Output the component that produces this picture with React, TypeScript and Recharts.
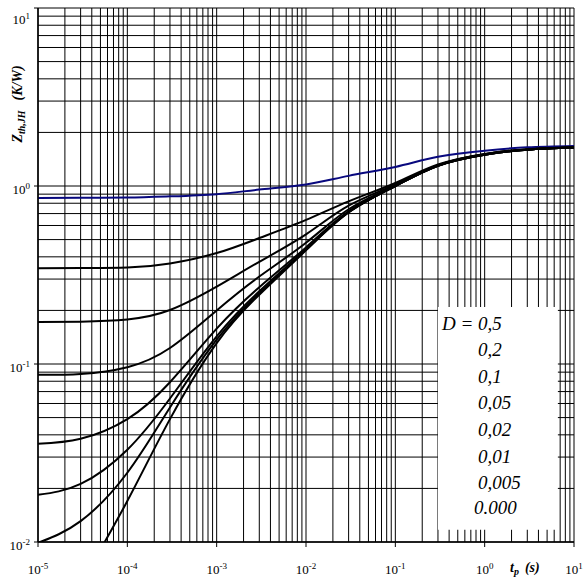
import React from 'react';
import { LineChart, Line, XAxis, YAxis, CartesianGrid, ReferenceArea } from 'recharts';

// pulse duration t_p (s) vs Z_th,JH (K/W)
const D_050: [number, number][] = [
  [1e-5, 0.856], [3e-5, 0.858], [1e-4, 0.862], [3e-4, 0.875], [1e-3, 0.9], [3e-3, 0.955],
  [1e-2, 1.02], [3e-2, 1.14], [1e-1, 1.28], [3e-1, 1.46], [1, 1.58], [3, 1.65], [10, 1.68],
];
const D_020: [number, number][] = [
  [1e-5, 0.345], [3e-5, 0.346], [1e-4, 0.348], [3e-4, 0.367], [1e-3, 0.42], [3e-3, 0.51],
  [1e-2, 0.645], [3e-2, 0.82], [1e-1, 1.04], [3e-1, 1.32], [1, 1.515], [3, 1.61], [10, 1.65],
];
const D_010: [number, number][] = [
  [1e-5, 0.172], [3e-5, 0.173], [1e-4, 0.178], [3e-4, 0.201], [1e-3, 0.272], [3e-3, 0.375],
  [1e-2, 0.535], [3e-2, 0.775], [1e-1, 1.02], [3e-1, 1.31], [1, 1.51], [3, 1.605], [10, 1.645],
];
const D_005: [number, number][] = [
  [1e-5, 0.087], [3e-5, 0.088], [1e-4, 0.096], [3e-4, 0.123], [1e-3, 0.2], [3e-3, 0.31],
  [1e-2, 0.48], [3e-2, 0.74], [1e-1, 1.01], [3e-1, 1.31], [1, 1.51], [3, 1.605], [10, 1.645],
];
const D_002: [number, number][] = [
  [1e-5, 0.0356], [3e-5, 0.038], [1e-4, 0.049], [3e-4, 0.079], [1e-3, 0.158], [3e-3, 0.27],
  [1e-2, 0.452], [3e-2, 0.72], [1e-1, 1.0], [3e-1, 1.3], [1, 1.5], [3, 1.6], [10, 1.645],
];
const D_001: [number, number][] = [
  [1e-5, 0.0184], [3e-5, 0.0212], [1e-4, 0.033], [3e-4, 0.064], [1e-3, 0.143], [3e-3, 0.256],
  [1e-2, 0.443], [3e-2, 0.715], [1e-1, 1.0], [3e-1, 1.3], [1, 1.5], [3, 1.6], [10, 1.645],
];
const D_0005: [number, number][] = [
  [1e-5, 0.0099], [3e-5, 0.0131], [1e-4, 0.0245], [3e-4, 0.057], [1e-3, 0.137], [3e-3, 0.25],
  [1e-2, 0.438], [3e-2, 0.712], [1e-1, 1.0], [3e-1, 1.3], [1, 1.5], [3, 1.6], [10, 1.645],
];
const D_SINGLE: [number, number][] = [
  [3e-5, 0.0058], [1e-4, 0.017], [3e-4, 0.049], [1e-3, 0.131], [3e-3, 0.245], [1e-2, 0.435],
  [3e-2, 0.71], [1e-1, 1.0], [3e-1, 1.3], [1, 1.5], [3, 1.6], [10, 1.645],
];

const SERIES = [
  { name: '0,5', pts: D_050, color: '#08087e' },
  { name: '0,2', pts: D_020, color: '#000' },
  { name: '0,1', pts: D_010, color: '#000' },
  { name: '0,05', pts: D_005, color: '#000' },
  { name: '0,02', pts: D_002, color: '#000' },
  { name: '0,01', pts: D_001, color: '#000' },
  { name: '0,005', pts: D_0005, color: '#000' },
  { name: '0.000', pts: D_SINGLE, color: '#000' },
];

const LEGEND_LABELS = ['D = 0,5', '0,2', '0,1', '0,05', '0,02', '0,01', '0,005', '0.000'];

const X_DECADES = [1e-5, 1e-4, 1e-3, 1e-2, 1e-1, 1];
const Y_DECADES = [1e-2, 1e-1, 1];
const MULTS = [1, 2, 3, 4, 5, 6, 7, 8, 9];
const X_TICKS = [...X_DECADES.flatMap((d) => MULTS.map((m) => m * d)), 10];
const Y_TICKS = [...Y_DECADES.flatMap((d) => MULTS.map((m) => m * d)), 10];

const FONT = '"Liberation Serif", "Times New Roman", serif';
const PLOT_LEFT = 38;
const PLOT_BOTTOM = 542;

const decadeExp = (v: number) => {
  const l = Math.log10(v);
  return Math.abs(l - Math.round(l)) < 1e-6 ? Math.round(l) : null;
};

const XTick = ({ x, payload }: any) => {
  const e = decadeExp(payload.value);
  if (e === null) return <g />;
  return (
    <g>
      <line x1={x} x2={x} y1={PLOT_BOTTOM} y2={PLOT_BOTTOM + 5} stroke="#000" />
      <text x={x} y={574} textAnchor="middle" fontFamily={FONT} fontSize={13} fill="#000">
        10<tspan dy={-5} fontSize={9}>{e}</tspan>
      </text>
    </g>
  );
};

const YTick = ({ y, payload }: any) => {
  const e = decadeExp(payload.value);
  if (e === null) return <g />;
  return (
    <g>
      <line x1={PLOT_LEFT - 4} x2={PLOT_LEFT} y1={y} y2={y} stroke="#000" />
      <text x={30} y={e === 1 ? 24 : y + 8} textAnchor="end" fontFamily={FONT} fontSize={13} fill="#000">
        10<tspan dy={-5} fontSize={9}>{e}</tspan>
      </text>
    </g>
  );
};

export default function App() {
  return (
    <div style={{ position: 'absolute', left: 0, top: 0, width: 584, height: 578, background: '#fff' }}>
      <LineChart width={584} height={578} margin={{ top: 8, right: 10, left: 0, bottom: 0 }}>
        <CartesianGrid stroke="#000" strokeWidth={1} />
        <XAxis
          dataKey="t"
          type="number"
          scale="log"
          domain={[1e-5, 10]}
          ticks={X_TICKS}
          interval={0}
          allowDataOverflow
          tick={<XTick />}
          tickLine={false}
          axisLine={{ stroke: '#000', strokeWidth: 1.5 }}
          height={36}
        />
        <YAxis
          type="number"
          scale="log"
          domain={[0.01, 10]}
          ticks={Y_TICKS}
          interval={0}
          allowDataOverflow
          tick={<YTick />}
          tickLine={false}
          axisLine={{ stroke: '#000', strokeWidth: 1.5 }}
          width={38}
        />
        <ReferenceArea x1={0.3} x2={6.6} y1={0.0117} y2={0.209} fill="#fff" fillOpacity={1} stroke="none" />
        {SERIES.map((s) => (
          <Line
            key={s.name}
            data={s.pts.map(([t, z]) => ({ t, z }))}
            dataKey="z"
            type="natural"
            stroke={s.color}
            strokeWidth={2}
            dot={false}
            isAnimationActive={false}
          />
        ))}
      </LineChart>
      <svg width={584} height={578} style={{ position: 'absolute', left: 0, top: 0, pointerEvents: 'none' }}>
        <text
          x={22}
          y={104}
          transform="rotate(-90, 22, 104)"
          textAnchor="middle"
          fontFamily={FONT}
          fontSize={14}
          fontStyle="italic"
          fontWeight="bold"
        >
          Z<tspan dy={3} fontSize={10}>th,JH</tspan>
          <tspan dy={-3} dx={10}>(K/W)</tspan>
        </text>
        <text x={510} y={572} fontFamily={FONT} fontSize={14} fontStyle="italic" fontWeight="bold">
          t<tspan dy={3} fontSize={10}>p</tspan>
          <tspan dy={-3} dx={6}>(s)</tspan>
        </text>
        {LEGEND_LABELS.map((l, i) => (
          <text
            key={l}
            x={i === 0 ? 442 : i === 7 ? 474 : 478}
            y={[330, 356, 383, 409, 436, 463, 489, 514][i]}
            fontFamily={FONT}
            fontSize={19}
            fontStyle="italic"
          >
            {l}
          </text>
        ))}
      </svg>
    </div>
  );
}
